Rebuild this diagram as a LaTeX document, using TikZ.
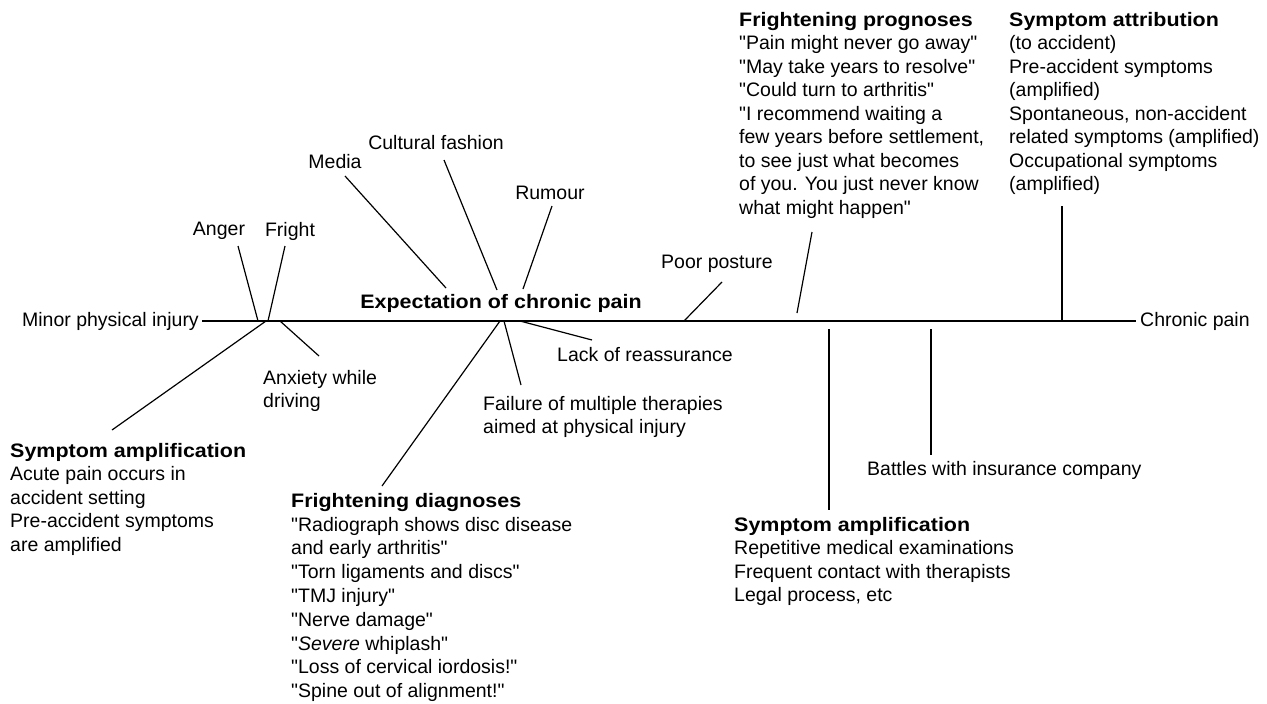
\documentclass[tikz,border=0pt]{standalone}
\usepackage{fontspec}
\setmainfont{Liberation Sans}[Ligatures=TeXOff]
\newfontfamily\headfont{Liberation Sans}[FakeStretch=1.1,Ligatures=TeXOff]
\newcommand\hd[1]{{\headfont\bfseries #1}}
\begin{document}
\begin{tikzpicture}[x=1pt,y=-1pt,
  every node/.style={inner sep=0pt,font=\fontsize{19.5}{23.5}\selectfont},
  lbl/.style={anchor=center},
  blk/.style={anchor=north west,align=left},
  link/.style={line width=1.2pt,black}]
\useasboundingbox (0,0) rectangle (1267,704);
% spine
\node[anchor=east] (minor) at (199,321) {Minor physical injury};
\node[anchor=west] (chronic) at (1140,321) {Chronic pain};
\draw[link] (minor.east) ++(3,0) coordinate (s0) -- (1136,321) coordinate (s1);
\node[lbl] (expect) at (501,303) {\hd{Expectation of chronic pain}};
% upper labels
\node[lbl] (anger) at (219,231) {Anger};
\node[lbl] (fright) at (290,231) {Fright};
\node[lbl] (media) at (335,162) {Media};
\node[lbl] (culture) at (436,143) {Cultural fashion};
\node[lbl] (rumour) at (550,193) {Rumour};
\node[lbl] (posture) at (717,264) {Poor posture};
\node[blk] (prog) at (739,12) {\hd{Frightening prognoses}\\
"Pain might never go away"\\
"May take years to resolve"\\
"Could turn to arthritis"\\
"I recommend waiting a\\
few years before settlement,\\
to see just what becomes\\
of you. You just never know\\
what might happen"};
\node[blk] (attr) at (1009,12) {\hd{Symptom attribution}\\
(to accident)\\
Pre-accident symptoms\\
(amplified)\\
Spontaneous, non-accident\\
related symptoms (amplified)\\
Occupational symptoms\\
(amplified)};
% lower labels
\node[blk] (anx) at (263,370) {Anxiety while\\driving};
\node[anchor=west] (lack) at (557,355) {Lack of reassurance};
\node[blk] (fail) at (483,396) {Failure of multiple therapies\\aimed at physical injury};
\node[blk] (amp1) at (10,443) {\hd{Symptom amplification}\\
Acute pain occurs in\\
accident setting\\
Pre-accident symptoms\\
are amplified};
\node[blk,font=\fontsize{19.5}{23.8}\selectfont] (diag) at (291,493) {\hd{Frightening diagnoses}\\
"Radiograph shows disc disease\\
and early arthritis"\\
"Torn ligaments and discs"\\
"TMJ injury"\\
"Nerve damage"\\
"\textit{Severe} whiplash"\\
"Loss of cervical iordosis!"\\
"Spine out of alignment!"};
\node[anchor=west] (battle) at (867,470) {Battles with insurance company};
\node[blk] (amp2) at (734,517) {\hd{Symptom amplification}\\
Repetitive medical examinations\\
Frequent contact with therapists\\
Legal process, etc};
% connector coordinates
\coordinate (angerA) at (238,246); \coordinate (angerB) at (258,321);
\coordinate (frightA) at (285,246); \coordinate (frightB) at (268,321);
\coordinate (anxA) at (280,321); \coordinate (anxB) at (319,356);
\coordinate (amp1A) at (266,321); \coordinate (amp1B) at (112,430);
\coordinate (mediaA) at (345,176); \coordinate (mediaB) at (446,288);
\coordinate (cultA) at (444,160); \coordinate (cultB) at (497,290);
\coordinate (rumA) at (552,206); \coordinate (rumB) at (523,289);
\coordinate (lackA) at (520,321); \coordinate (lackB) at (592,340);
\coordinate (failA) at (504,321); \coordinate (failB) at (521,385);
\coordinate (diagA) at (500,321); \coordinate (diagB) at (382,486);
\coordinate (postA) at (684,321); \coordinate (postB) at (722,282);
\coordinate (progA) at (797,313); \coordinate (progB) at (812,232);
\coordinate (amp2A) at (829,329); \coordinate (amp2B) at (829,510);
\coordinate (batA) at (931,329); \coordinate (batB) at (931,455);
\coordinate (attrA) at (1062,321); \coordinate (attrB) at (1062,206);
\foreach \n in {anger,fright,anx,amp1,media,cult,rum,lack,fail,diag,post,prog,amp2,bat,attr}
  \draw[link] (\n A) -- (\n B);
\end{tikzpicture}
\end{document}
